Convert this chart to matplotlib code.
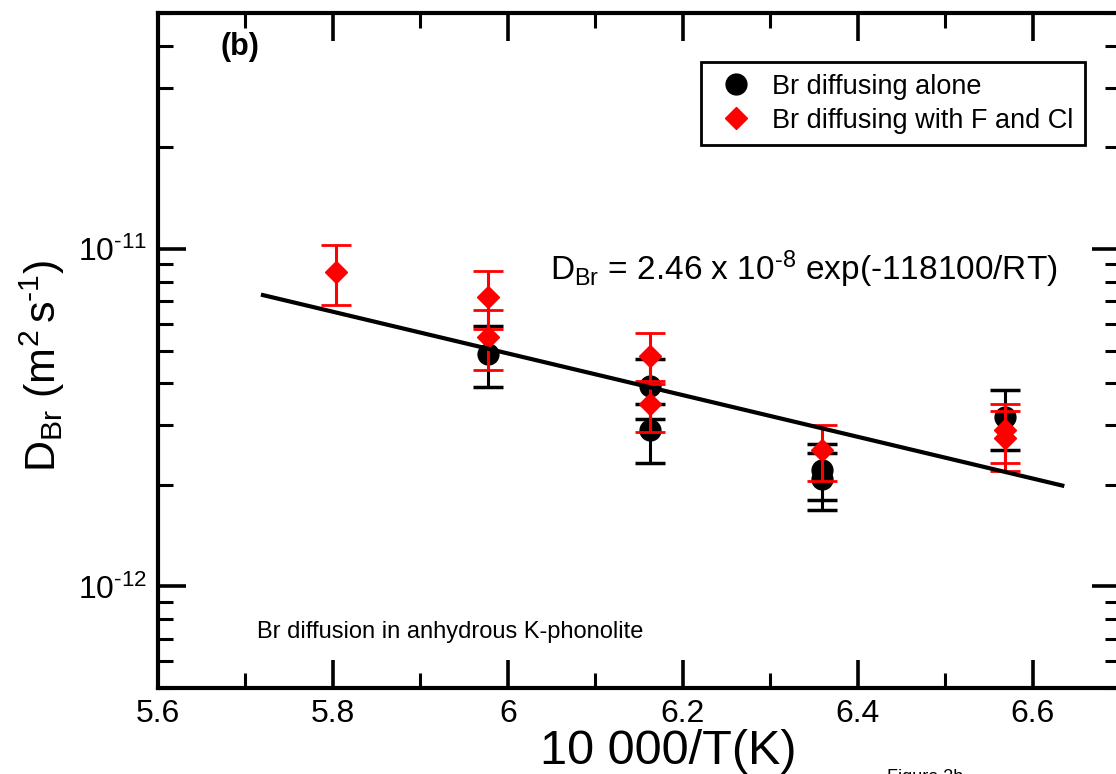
import matplotlib
matplotlib.use('Agg')
import matplotlib.pyplot as plt
from matplotlib.lines import Line2D
from matplotlib.ticker import MultipleLocator, FuncFormatter, LogLocator
import numpy as np

plt.rcParams['font.family'] = ['Liberation Sans', 'DejaVu Sans']
plt.rcParams['mathtext.fontset'] = 'custom'
plt.rcParams['mathtext.rm'] = 'Liberation Sans'
plt.rcParams['mathtext.it'] = 'Liberation Sans:italic'
plt.rcParams['axes.unicode_minus'] = False

# Br diffusing alone (black circles)
alone_x = [5.977, 6.162, 6.162, 6.359, 6.359, 6.568]
alone_y = [4.9e-12, 3.92e-12, 2.90e-12, 2.22e-12, 2.08e-12, 3.17e-12]
alone_err = [1.0e-12, 0.79e-12, 0.58e-12, 0.42e-12, 0.40e-12, 0.64e-12]

# Br diffusing with F and Cl (red diamonds)
mix_x = [5.803, 5.977, 5.977, 6.162, 6.162, 6.359, 6.568, 6.568]
mix_y = [8.55e-12, 7.2e-12, 5.48e-12, 4.81e-12, 3.47e-12, 2.53e-12, 2.9e-12, 2.75e-12]
mix_err = [1.73e-12, 1.4e-12, 1.1e-12, 0.83e-12, 0.6e-12, 0.48e-12, 0.58e-12, 0.55e-12]

# Arrhenius fit line end points
fit_x = [5.72, 6.634]
fit_y = [7.3e-12, 1.99e-12]

fig = plt.figure(figsize=(11.16, 7.74), dpi=100)
ax = fig.add_axes([0.1416, 0.1111, 0.862, 0.872])

ax.errorbar(alone_x, alone_y, yerr=alone_err, fmt='o', color='black', ms=15,
            elinewidth=2.2, capsize=11, capthick=2.5, zorder=3)
ax.errorbar(mix_x, mix_y, yerr=mix_err, fmt='D', color='#ff0000', ms=11,
            elinewidth=2.2, capsize=11, capthick=2, zorder=4)
ax.plot(fit_x, fit_y, color='black', lw=3, zorder=5)

ax.set_yscale('log')
ax.set_xlim(5.6, 6.7)
ax.set_ylim(5e-13, 5e-11)


def ylab(v, p):
    e = int(round(np.log10(v)))
    if e < 0:
        return r'$\mathregular{10^{\text{-%d}}}$' % (-e)
    return r'$\mathregular{10^{%d}}$' % e


ax.xaxis.set_major_locator(MultipleLocator(0.2))
ax.xaxis.set_minor_locator(MultipleLocator(0.1))
ax.xaxis.set_major_formatter(FuncFormatter(lambda v, p: '%g' % round(v, 2)))
ax.yaxis.set_major_locator(LogLocator(base=10))
ax.yaxis.set_major_formatter(FuncFormatter(ylab))
ax.yaxis.set_minor_locator(LogLocator(base=10, subs=range(2, 10)))
ax.yaxis.set_minor_formatter(FuncFormatter(lambda v, p: ''))

ax.tick_params(which='both', direction='in', top=True, right=True, labelsize=23)
ax.tick_params(which='major', length=20, width=2.6)
ax.tick_params(which='minor', length=11, width=2.2)
ax.tick_params(axis='x', pad=8)
ax.tick_params(axis='y', pad=8)
for s in ax.spines.values():
    s.set_linewidth(3)

handles = [
    Line2D([], [], marker='o', color='black', ls='none', ms=15),
    Line2D([], [], marker='D', color='#ff0000', ls='none', ms=11),
]
leg = ax.legend(handles, ['Br diffusing alone', 'Br diffusing with F and Cl'],
                loc='upper right', bbox_to_anchor=(0.9636, 0.927), borderaxespad=0,
                fontsize=19.5, fancybox=False, framealpha=1, edgecolor='black',
                handletextpad=0.5, handlelength=1.7, borderpad=0.42, labelspacing=0.3)
leg.get_frame().set_linewidth(2)

ax.text(0.4075, 0.604,
        r'D$_{\mathregular{Br}}$ = 2.46 x 10$^{\mathregular{\text{-8}}}$ exp(-118100/RT)',
        transform=ax.transAxes, fontsize=24, va='baseline')
ax.text(0.103, 0.074, 'Br diffusion in anhydrous K-phonolite',
        transform=ax.transAxes, fontsize=17, va='baseline')
ax.text(0.0645, 0.938, '(b)', transform=ax.transAxes, fontsize=22,
        fontweight='bold', va='baseline')

fig.text(0.5986, 0.029, '10 000/T(K)', fontsize=35, ha='center', va='center')
fig.text(0.038, 0.527, r'$\mathregular{D_{Br}\ (m^{2}\,s^{\text{-1}})}$', fontsize=31,
         rotation=90, ha='center', va='center')
fig.text(0.795, -0.004, 'Figure 3b', fontsize=13, ha='left', va='center')

fig.savefig('out.png', dpi=100)
